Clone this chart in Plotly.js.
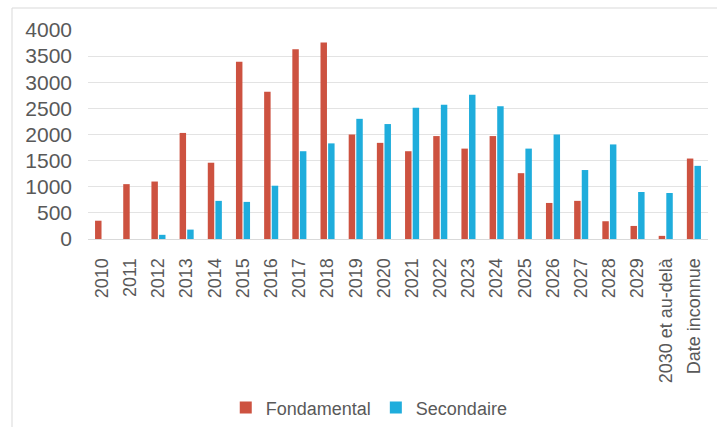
<!DOCTYPE html>
<html>
<head>
<meta charset="utf-8">
<script src="https://cdn.plot.ly/plotly-3.0.1.min.js"></script>
<style>
  html, body { margin: 0; padding: 0; background: #ffffff; }
  #chart { width: 717px; height: 427px; }
</style>
</head>
<body>
<div id="chart"></div>
<script>
// Categories (year of the event, plus two catch-all groups)
var categories = ['2010', '2011', '2012', '2013', '2014', '2015', '2016', '2017', '2018', '2019',
  '2020', '2021', '2022', '2023', '2024', '2025', '2026', '2027', '2028', '2029',
  '2030 et au-delà', 'Date inconnue'];

// Fondamental series
var fondamental = [350, 1050, 1100, 2030, 1460, 3390, 2820, 3630, 3760, 2000,
  1840, 1680, 1970, 1730, 1970, 1260, 690, 730, 340, 250,
  60, 1540];

// Secondaire series
var secondaire = [0, 0, 80, 180, 730, 710, 1020, 1680, 1830, 2300,
  2200, 2510, 2570, 2760, 2540, 1730, 2000, 1320, 1810, 900,
  880, 1400];

var yTicks = [0, 500, 1000, 1500, 2000, 2500, 3000, 3500, 4000];

var textColor = '#595959';
var fontFamily = '"Liberation Sans", Arial, sans-serif';

var traces = [
  {
    type: 'bar',
    name: 'Fondamental',
    x: categories,
    y: fondamental,
    marker: { color: '#CD5240' }
  },
  {
    type: 'bar',
    name: 'Secondaire',
    x: categories,
    y: secondaire,
    marker: { color: '#1FADDC' }
  }
];

var layout = {
  width: 717,
  height: 427,
  margin: { l: 88, r: 9, t: 30, b: 188 },
  paper_bgcolor: '#ffffff',
  plot_bgcolor: '#ffffff',
  barmode: 'group',
  bargap: 0.46,
  bargroupgap: 0.15,
  font: { family: fontFamily, color: textColor, size: 18 },
  showlegend: true,
  legend: {
    orientation: 'h',
    xref: 'container',
    yref: 'container',
    x: 0.515,
    xanchor: 'center',
    y: 0.045,
    yanchor: 'middle',
    font: { size: 18, color: textColor },
    itemwidth: 30,
    traceorder: 'normal'
  },
  xaxis: {
    type: 'category',
    tickangle: -90,
    tickfont: { size: 18, color: textColor },
    showgrid: false,
    showline: true,
    linecolor: '#d9d9d9',
    linewidth: 1,
    ticks: '',
    ticklabelstandoff: 11,
    automargin: false
  },
  yaxis: {
    range: [0, 4000],
    tickvals: yTicks,
    ticktext: yTicks.map(String),
    tickfont: { size: 21, color: textColor },
    showgrid: true,
    gridcolor: '#e3e3e3',
    gridwidth: 1,
    zeroline: false,
    showline: false,
    ticks: '',
    ticklabelstandoff: 15,
    automargin: false
  },
  shapes: [
    {
      // outer chart frame (runs past the right and bottom edges)
      type: 'rect',
      xref: 'paper', yref: 'paper',
      x0: -76 / 620, x1: 1.1,
      y0: -1.2, y1: 1 + 22 / 209,
      line: { color: '#d9d9d9', width: 1 },
      fillcolor: 'rgba(0,0,0,0)',
      layer: 'below'
    }
  ]
};

Plotly.newPlot('chart', traces, layout, { displayModeBar: false, staticPlot: true });
</script>
</body>
</html>
